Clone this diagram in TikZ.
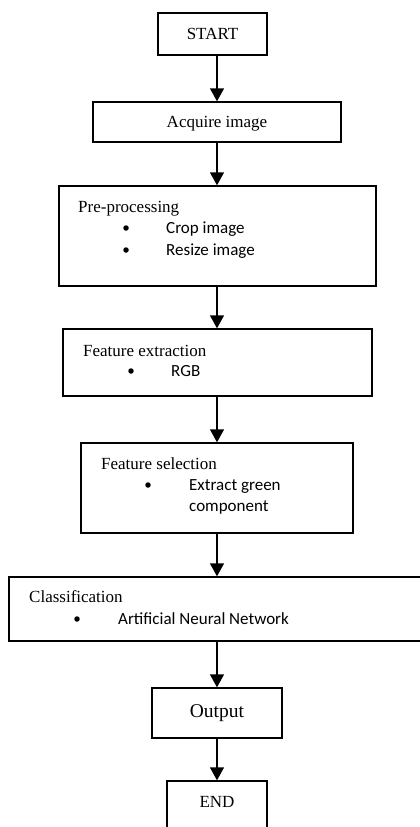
\documentclass[tikz,border=0pt]{standalone}
\usepackage{fontspec}
\setmainfont{Liberation Serif}
\newfontfamily\calibfont{Carlito}
\usetikzlibrary{arrows.meta}
\begin{document}
\begin{tikzpicture}[x=1pt,y=-1pt,
  box/.style={draw,line width=1.4pt,rectangle,inner sep=0pt},
  arr/.style={line width=1.4pt,-{Triangle[width=14pt,length=13pt]}},
  ttl/.style={font=\fontsize{17}{20}\selectfont,inner sep=0pt},
  itm/.style={font=\calibfont\fontsize{17}{20}\selectfont,inner sep=0pt,anchor=base west},
  bul/.style={circle,fill,inner sep=0pt,minimum size=5.5pt}]
\useasboundingbox (0,0) rectangle (420,827);
\clip (0,0) rectangle (420,827);
% boxes
\node[box,minimum width=109pt,minimum height=42pt] (start) at (212.5,34) {};
\node[box,minimum width=248pt,minimum height=40pt] (acq) at (217,122) {};
\node[box,minimum width=317pt,minimum height=100pt] (pp) at (217.5,236) {};
\node[box,minimum width=309pt,minimum height=67pt] (fe) at (217.5,362.5) {};
\node[box,minimum width=272pt,minimum height=90pt] (fs) at (217,488) {};
\node[box,minimum width=416pt,minimum height=64pt] (cl) at (217,609) {};
\node[box,minimum width=130pt,minimum height=50pt] (out) at (217,713) {};
\node[box,minimum width=100pt,minimum height=64pt] (end) at (217,813) {};
% texts
\node[ttl,anchor=base] (tstart) at (212.5,39.3) {START};
\node[ttl,anchor=base] (tacq) at (217,127.7) {Acquire image};
\node[ttl,anchor=base west] (tpp) at (78,212.3) {Pre-processing};
\node[bul] (b1) at (126,228) {};
\node[itm] (i1) at (166,233.5) {Crop image};
\node[bul] (b2) at (126,250) {};
\node[itm] (i2) at (166,255.5) {Resize image};
\node[ttl,anchor=base west] (tfe) at (83,356) {Feature extraction};
\node[bul] (b3) at (131,371) {};
\node[itm] (i3) at (171,376.7) {RGB};
\node[ttl,anchor=base west] (tfs) at (101,469.3) {Feature selection};
\node[bul] (b4) at (148,485) {};
\node[itm] (i4) at (189,490.3) {Extract green};
\node[itm] (i5) at (189,511) {component};
\node[ttl,anchor=base west] (tcl) at (29,602.7) {Classification};
\node[bul] (b5) at (77,619) {};
\node[itm] (i6) at (118,624.3) {Artificial Neural Network};
\node[ttl,font=\fontsize{19.5}{22}\selectfont,anchor=base] (tout) at (217,717.3) {Output};
\node[ttl,anchor=base] (tend) at (217,807.3) {END};
% connectors
\draw[arr] (start.south -| acq.north) -- (acq.north);
\draw[arr] (acq.south) -- (acq.south |- pp.north);
\draw[arr] (pp.south -| acq.south) -- (acq.south |- fe.north);
\draw[arr] (fe.south -| acq.south) -- (acq.south |- fs.north);
\draw[arr] (fs.south) -- (cl.north);
\draw[arr] (cl.south) -- (out.north);
\draw[arr] (out.south) -- (end.north);
\end{tikzpicture}
\end{document}
